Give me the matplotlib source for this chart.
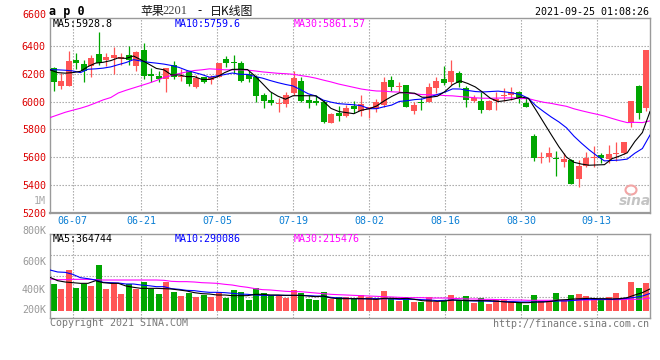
import matplotlib
matplotlib.use('Agg')
import matplotlib.pyplot as plt
from matplotlib.patches import Ellipse
import numpy as np

# ---------------- data ----------------
opens = [6240, 6115, 6115, 6299, 6271, 6252, 6343, 6299, 6314, 6304,
         6335, 6252, 6371, 6199, 6185, 6163, 6264, 6173, 6216, 6108,
         6175, 6156, 6180, 6304, 6283, 6280, 6197, 6175, 6048, 6012,
         5983, 5983, 6060, 6149, 6012, 6007, 6000, 5849, 5921, 5897,
         5969, 5935, 5945, 5945, 5976, 6156, 6108, 6120, 5935, 6000,
         6000, 6096, 6161, 6137, 6204, 6101, 6007, 6007, 5940, 6007,
         6041, 6048, 6072, 5993, 5753, 5593, 5600, 5598, 5569, 5581,
         5447, 5538, 5593, 5617, 5586, 5624, 5634, 5849, 6113, 5957]
highs = [6247, 6204, 6364, 6352, 6295, 6335, 6496, 6347, 6390, 6347,
         6400, 6362, 6424, 6240, 6216, 6244, 6292, 6232, 6223, 6192,
         6180, 6192, 6280, 6328, 6335, 6288, 6223, 6192, 6065, 6072,
         6024, 6072, 6216, 6180, 6048, 6048, 6012, 5916, 5969, 5976,
         6007, 6048, 5964, 6017, 6180, 6185, 6144, 6120, 6000, 6024,
         6132, 6175, 6252, 6300, 6216, 6113, 6048, 6072, 6012, 6072,
         6096, 6103, 6079, 6024, 5765, 5641, 5677, 5648, 5634, 5586,
         5581, 5641, 5682, 5629, 5689, 5713, 5708, 6005, 6120, 6371]
lows = [6079, 6093, 6115, 6232, 6137, 6180, 6266, 6256, 6199, 6261,
        6264, 6216, 6161, 6144, 6144, 6072, 6161, 6151, 6115, 6101,
        6132, 6125, 6175, 6247, 6204, 6137, 6137, 6000, 5957, 5976,
        5928, 5964, 6048, 6000, 5957, 5976, 5849, 5844, 5863, 5888,
        5921, 5897, 5880, 5928, 5964, 6077, 6072, 5959, 5911, 5940,
        6000, 6060, 6120, 6120, 6108, 5964, 6000, 5921, 5940, 5940,
        6007, 6012, 5993, 5959, 5576, 5562, 5569, 5468, 5533, 5408,
        5389, 5528, 5533, 5562, 5557, 5576, 5624, 5816, 5873, 5935]
closes = [6144, 6149, 6292, 6275, 6223, 6314, 6275, 6323, 6335, 6323,
          6295, 6357, 6185, 6187, 6165, 6244, 6173, 6187, 6125, 6168,
          6144, 6173, 6276, 6280, 6280, 6151, 6161, 6043, 6007, 5993,
          5993, 6048, 6168, 6007, 5993, 5988, 5856, 5911, 5897, 5952,
          5947, 5983, 5959, 6000, 6137, 6108, 6113, 5964, 5976, 5993,
          6108, 6151, 6132, 6223, 6132, 6012, 6024, 5940, 6007, 6017,
          6048, 6072, 6019, 5959, 5593, 5605, 5634, 5588, 5586, 5408,
          5538, 5595, 5600, 5593, 5624, 5634, 5708, 6005, 5921, 6371]

ma5 = [6228, 6208, 6204, 6208, 6217, 6251, 6276, 6282, 6294, 6314,
       6310, 6327, 6299, 6269, 6238, 6228, 6191, 6191, 6179, 6179,
       6159, 6159, 6177, 6208, 6231, 6232, 6230, 6183, 6128, 6071,
       6039, 6017, 6042, 6042, 6042, 6041, 6002, 5951, 5929, 5921,
       5913, 5938, 5948, 5968, 6005, 6037, 6063, 6064, 6060, 6031,
       6031, 6038, 6072, 6121, 6149, 6130, 6105, 6066, 6023, 6000,
       6007, 6017, 6033, 6023, 5938, 5850, 5762, 5676, 5601, 5564,
       5551, 5543, 5545, 5547, 5590, 5609, 5632, 5713, 5778, 5928.8]
ma10 = [6228, 6228, 6225, 6220, 6208, 6232, 6235, 6240, 6249, 6265,
        6280, 6301, 6291, 6282, 6276, 6269, 6259, 6245, 6224, 6209,
        6194, 6175, 6184, 6194, 6205, 6196, 6195, 6180, 6168, 6151,
        6136, 6123, 6112, 6085, 6056, 6040, 6010, 5996, 5985, 5981,
        5977, 5970, 5949, 5949, 5963, 5975, 6001, 6006, 6014, 6018,
        6034, 6051, 6068, 6091, 6090, 6080, 6072, 6069, 6072, 6075,
        6069, 6061, 6049, 6023, 5969, 5928, 5889, 5854, 5812, 5751,
        5700, 5653, 5611, 5574, 5577, 5580, 5587, 5629, 5663, 5759.6]
ma30 = [5885, 5904, 5923, 5938, 5952, 5969, 5990, 6012, 6029, 6062,
        6081, 6098, 6115, 6132, 6151, 6173, 6187, 6201, 6213, 6223,
        6228, 6235, 6232, 6228, 6228, 6228, 6226, 6220, 6213, 6208,
        6203, 6200, 6196, 6187, 6179, 6168, 6154, 6141, 6126, 6114,
        6102, 6090, 6082, 6076, 6075, 6070, 6068, 6061, 6056, 6050,
        6049, 6048, 6043, 6041, 6036, 6032, 6027, 6024, 6024, 6025,
        6026, 6027, 6022, 6021, 6007, 5995, 5987, 5976, 5966, 5948,
        5934, 5921, 5909, 5896, 5879, 5863, 5849, 5851, 5849, 5861.57]

volume_k = [447, 364, 679, 381, 447, 414, 762, 364, 458, 281,
            447, 359, 480, 370, 281, 480, 315, 248, 304, 232,
            259, 237, 315, 215, 348, 315, 182, 386, 304, 265,
            265, 221, 348, 304, 204, 182, 320, 199, 226, 226,
            199, 259, 237, 210, 337, 210, 171, 221, 155, 155,
            226, 155, 171, 265, 182, 248, 138, 210, 116, 182,
            182, 149, 138, 99, 265, 171, 171, 298, 182, 265,
            281, 248, 210, 182, 226, 298, 210, 480, 381, 469]
vol_ma5_k = [557, 502, 480, 469, 458, 458, 502, 469, 458, 458,
             414, 392, 375, 375, 375, 370, 364, 348, 331, 304,
             287, 281, 265, 265, 254, 254, 254, 276, 276, 265,
             265, 259, 259, 259, 248, 237, 248, 215, 204, 204,
             204, 204, 199, 193, 210, 210, 204, 210, 193, 171,
             166, 160, 166, 182, 177, 171, 171, 171, 171, 160,
             149, 143, 138, 138, 149, 149, 160, 182, 188, 199,
             204, 210, 204, 204, 199, 204, 221, 265, 304, 364.744]
vol_ma10_k = [679, 646, 640, 607, 552, 535, 513, 475, 469, 464,
              447, 447, 430, 419, 403, 403, 370, 359, 342, 337,
              320, 309, 309, 304, 293, 281, 276, 265, 259, 259,
              259, 259, 259, 259, 254, 248, 243, 226, 215, 210,
              204, 204, 204, 204, 204, 199, 193, 193, 193, 188,
              182, 171, 177, 182, 177, 171, 166, 166, 160, 160,
              155, 155, 149, 149, 149, 155, 160, 166, 166, 177,
              188, 193, 193, 193, 193, 199, 210, 226, 248, 290.086]
vol_ma30_k = [530, 519, 519, 524, 524, 524, 519, 513, 513, 513,
              513, 513, 513, 513, 513, 508, 491, 486, 486, 480,
              469, 464, 458, 442, 430, 408, 392, 370, 353, 348,
              337, 326, 320, 320, 309, 298, 287, 276, 270, 265,
              259, 254, 248, 243, 237, 232, 226, 221, 221, 221,
              215, 215, 215, 210, 204, 199, 199, 193, 193, 188,
              188, 182, 182, 177, 177, 177, 177, 177, 177, 177,
              182, 182, 188, 188, 188, 188, 193, 193, 199, 215.476]

date_tick_labels = ['06-07', '06-21', '07-05', '07-19', '08-02', '08-16', '08-30', '09-13']
date_tick_index = [3, 12, 22, 32, 42, 52, 62, 72]
price_ticks = [5200, 5400, 5600, 5800, 6000, 6200, 6400]
price_top = 6600
vol_labels = ['800K', '600K', '400K', '200K']

# ---------------- style ----------------
W, H = 660, 360
RED = '#ff5555'
GREEN = '#00a600'
GRID = '#a0a0a0'
BORDER = '#9a9a9a'
MONO = 'DejaVu Sans Mono'
FS = 7.2
LW = 0.8

def P(x, y):
    return x / W, 1 - y / H

fig = plt.figure(figsize=(W / 100, H / 100), dpi=100)
fig.patch.set_facecolor('white')

ax = fig.add_axes([50 / W, 1 - 213 / H, 600 / W, 195 / H])
axv = fig.add_axes([50 / W, 1 - 318 / H, 600 / W, 84 / H])

n = len(closes)
x = np.arange(n)
x_line = -0.5 + np.arange(n) * n / (n - 1)   # MA lines stretch across the full width
o = np.array(opens, float)
c = np.array(closes, float)
up = c >= o
cols = [RED if u else GREEN for u in up]

# ---- main price panel ----
ax.set_xlim(-0.5, n - 0.5)
ax.set_ylim(price_ticks[0], price_top)
grid_x = [-0.5 + i * n / (n - 1) for i in date_tick_index]
for gx in grid_x:
    ax.axvline(gx, color=GRID, lw=0.8, ls=(0, (1.2, 1.5)), zorder=0)
for gy in price_ticks[1:]:
    ax.axhline(gy, color=GRID, lw=0.8, ls=(0, (1.2, 1.5)), zorder=0)

ax.vlines(x, lows, highs, colors=cols, lw=0.9, zorder=2)
body_h = np.maximum(np.abs(c - o), 6)
body_b = np.where(np.abs(c - o) < 6, (c + o) / 2 - 3, np.minimum(o, c))
ax.bar(x, body_h, bottom=body_b, width=0.8, color=cols, lw=0, zorder=3)

ax.plot(x_line, ma30, color='#ff00ff', lw=LW, zorder=4)
ax.plot(x_line, ma10, color='#0000ff', lw=LW, zorder=5)
ax.plot(x_line, ma5, color='black', lw=LW, zorder=6)

ax.set_yticks(price_ticks)
ax.set_yticklabels([str(t) for t in price_ticks], color='#dd0000',
                   fontfamily=MONO, fontsize=FS)
ax.set_xticks(grid_x)
ax.set_xticklabels(date_tick_labels, color='#0b7fd4', fontfamily=MONO, fontsize=FS)
ax.tick_params(axis='both', length=0)
ax.tick_params(axis='y', pad=3)
ax.tick_params(axis='x', pad=2.5)
for s in ax.spines.values():
    s.set_color(BORDER)
    s.set_linewidth(1.0)
ax.spines['bottom'].set_linewidth(1.6)

# ---- volume panel ----
VOL_PER_PX = 16557
axv.set_xlim(-0.5, n - 0.5)
axv.set_ylim(-7 * VOL_PER_PX, 77 * VOL_PER_PX)
for gx in grid_x:
    axv.axvline(gx, color=GRID, lw=0.8, ls=(0, (1.2, 1.5)), zorder=0)
for f in (0.25, 0.5, 0.75):
    axv.plot([0, 1], [f, f], transform=axv.transAxes, color=GRID, lw=0.8,
             ls=(0, (1.2, 1.5)), zorder=0)
vol = np.array(volume_k) * 1000.0
axv.bar(x, vol, width=0.8, color=cols, lw=0, zorder=2)
axv.plot(x_line, np.array(vol_ma30_k) * 1000, color='#ff00ff', lw=LW, zorder=3)
axv.plot(x_line, np.array(vol_ma10_k) * 1000, color='#0000ff', lw=LW, zorder=4)
axv.plot(x_line, np.array(vol_ma5_k) * 1000, color='black', lw=LW, zorder=5)
axv.set_xticks([])
axv.set_yticks([])
for s in axv.spines.values():
    s.set_color(BORDER)
    s.set_linewidth(1.0)

# ---- texts ----
def T(xp, yp, s, **kw):
    kw.setdefault('fontfamily', MONO)
    kw.setdefault('fontsize', FS)
    kw.setdefault('va', 'center')
    fig.text(*P(xp, yp), s, **kw)

T(46, 15, str(price_top), color='#dd0000', ha='right')
T(46, 200.5, '1M', color='#aaaaaa', ha='right')
T(49, 11, 'a p 0', fontweight='bold', fontsize=8.5, ha='left', color='black')
T(140, 11, '苹果', fontfamily=['Noto Sans CJK SC', 'DejaVu Sans'], fontsize=8.6,
  ha='left', color='#111111')
T(162, 11.5, '2201', fontfamily='Liberation Serif', fontsize=9, ha='left', color='#444444')
T(197, 11, '-', fontfamily=['Noto Sans CJK SC', 'DejaVu Sans'], fontsize=8.6,
  ha='left', color='#111111')
T(210, 11, '日K线图', fontfamily=['Noto Sans CJK SC', 'DejaVu Sans'], fontsize=8.6,
  ha='left', color='#111111')
T(649, 12, '2021-09-25 01:08:26', ha='right', color='black')

T(53, 24, 'MA5:%.1f' % ma5[-1], ha='left', color='black')
T(175, 24, 'MA10:%.1f' % ma10[-1], ha='left', color='#0000ff')
T(294, 24, 'MA30:%.2f' % ma30[-1], ha='left', color='#ff00ff')

T(53, 238.5, 'MA5:%d' % round(vol_ma5_k[-1] * 1000), ha='left', color='black')
T(175, 238.5, 'MA10:%d' % round(vol_ma10_k[-1] * 1000), ha='left', color='#0000ff')
T(294, 238.5, 'MA30:%d' % round(vol_ma30_k[-1] * 1000), ha='left', color='#ff00ff')

for lab, yp in zip(vol_labels, [230.7, 261.7, 290, 310]):
    T(46, yp, lab, ha='right', color='#999999')

T(50, 323.5, 'Copyright 2021 SINA.COM', ha='left', color='#777777')
T(649, 324, 'http://finance.sina.com.cn', ha='right', color='#777777')

# sina watermark
T(635, 201, 'sina', fontfamily='DejaVu Sans', fontsize=10, fontweight='bold',
  fontstyle='italic', ha='center', color='#c4c4c4')
fig.add_artist(Ellipse(P(631, 190), 11 / W, 9 / H, transform=fig.transFigure,
                       fill=False, ec='#f2a5a5', lw=1.5))

fig.savefig('out.png', dpi=100)
